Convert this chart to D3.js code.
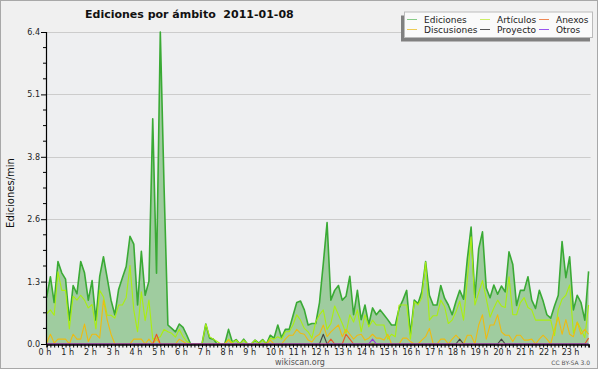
<!DOCTYPE html>
<html><head><meta charset="utf-8">
<script src="https://cdn.jsdelivr.net/npm/d3@7/dist/d3.min.js"></script>
<style>body{margin:0;background:#fff}svg{display:block;font-family:"DejaVu Sans",sans-serif}</style>
</head><body><svg id="c" width="600" height="370"></svg>
<script>
const title = "Ediciones por ámbito  2011-01-08";
const yLabel = "Ediciones/min";
const hourLabels = d3.range(24).map(h => h + " h");
const yTickValues = [0, 1.28, 2.56, 3.84, 5.12, 6.4];
const yTickLabels = ["0.0", "1.3", "2.6", "3.8", "5.1", "6.4"];
const seriesNames = ["Ediciones", "Artículos", "Anexos", "Discusiones", "Proyecto", "Otros"];

const ediciones = [0.95,1.38,0.85,1.69,1.46,1.33,0.49,1.2,1.03,1.69,1.46,0.9,1.3,0.49,1.38,1.79,1.35,0.9,0.6,1.12,1.36,1.59,2.21,2.05,
0.8,1.9,1.0,1.29,4.62,1.45,6.4,3.2,0.39,0.32,0.25,0.41,0.34,0.18,0,0,0,0,0.41,0.12,0.1,0,0,0,
0.3,0.04,0.09,0,0.1,0,0,0.08,0.02,0.09,0,0.18,0.12,0.39,0.13,0.3,0.3,0.58,0.85,0.88,0.7,0.39,0.42,0.42,
0.85,1.65,2.49,0.9,1.1,1.2,0.9,0.98,1.39,0.6,1.1,0.5,0.8,0.4,0.74,0.6,0.7,0.6,0.5,0.39,0.39,0.73,0.9,1.1,
0.2,0.9,0.83,1.07,1.69,1.0,0.8,0.8,1.2,0.94,0.8,0.6,0.87,1.1,0.92,1.74,2.4,0.95,1.95,2.3,1.15,0.95,1.21,1.02,
1.19,1.07,1.89,1.63,0.79,1.1,1.1,1.38,0.9,0.73,1.1,0.88,0.6,0.53,0.78,1.0,2.1,1.36,1.79,0.7,1.0,0.85,0.49,1.49];

const articulos = [0.62,0.7,0.59,1.48,1.1,1.1,0.31,0.98,0.9,1.0,0.9,0.74,0.81,0.31,1.1,0.97,0.59,0.59,0.53,0.8,0.8,0.95,1.61,0.7,
0.25,1.07,0.48,0.9,0.1,0.12,0.15,0.3,0.25,0.22,0.14,0.3,0.15,0.05,0,0,0,0,0.41,0.15,0.1,0.05,0,0,
0.1,0.03,0.08,0,0.08,0,0,0.08,0,0.08,0,0.12,0.1,0.15,0.1,0.25,0.25,0.39,0.6,0.49,0.32,0.25,0.12,0.45,
0.6,0.7,0.3,0.42,0.78,0.6,0.42,0.22,0.6,0.45,0.7,0.25,0.6,0.35,0.49,0.39,0.39,0.39,0.1,0.2,0.15,0.8,0.8,0.8,
0.1,0.87,0.8,0.95,1.68,0.49,0.58,0.58,0.9,0.77,0.42,0.49,0.66,0.88,0.49,1.33,2.2,0.8,1.05,1.3,0.93,0.55,0.74,0.9,
0.78,0.75,1.38,0.6,0.6,0.85,0.95,0.75,0.7,0.49,0.49,0.49,0.49,0.49,0.17,0.7,0.92,1.0,1.21,0.22,0.45,0.3,0.13,0.8];

const discusiones = [0.02,0.2,0.02,0.1,0.1,0.1,0,0.2,0.1,0.1,0.41,0.05,0.2,0.2,0.12,0.9,0.49,0.2,0,0,0,0,0,0.1,
0.1,0.1,0,0.1,0,0.1,0,0,0,0,0,0.1,0.05,0,0,0,0,0,0,0,0,0,0,0,
0.08,0,0,0,0,0,0,0,0,0,0,0.08,0,0,0,0.1,0.18,0.18,0.3,0.22,0.2,0.08,0.04,0.15,
0.2,0.39,0.15,0.25,0.32,0.39,0.15,0.3,0.2,0.1,0.18,0.2,0.08,0.12,0.2,0.12,0.12,0.08,0.2,0,0,0,0.12,0.12,
0.05,0,0,0.08,0.15,0.32,0,0,0.1,0.1,0,0.1,0.18,0.1,0,0.18,0.18,0,0.39,0.6,0.1,0.39,0.39,0.6,
0.25,0.18,0.18,0.05,0.18,0.18,0.08,0.08,0.1,0,0.1,0.18,0.1,0,0.3,0.55,0.2,0.5,0.2,0.15,0.45,0.2,0.3,0.2];

const anexos = [0,0,0,0,0,0,0,0,0,0,0,0,0,0,0,0,0,0,0,0,0,0,0,0,
0,0,0,0,0,0.2,0,0,0,0,0,0,0,0,0,0,0,0,0,0,0,0,0,0,
0,0,0,0,0,0,0,0,0,0,0,0,0,0,0,0,0,0,0,0,0,0,0,0,
0,0,0,0.1,0,0,0,0.2,0.1,0,0,0,0,0,0,0,0,0,0,0,0,0,0,0,
0,0,0,0,0,0,0,0,0,0,0,0,0,0,0,0,0,0,0,0,0,0,0,0,
0,0,0,0,0,0,0,0,0,0,0,0,0,0,0,0,0,0,0,0,0,0,0,0.12];

const proyecto = [0,0,0,0,0,0,0,0,0,0,0,0,0,0,0,0,0,0,0,0,0,0,0,0,
0,0,0,0,0,0,0,0,0,0,0,0,0,0,0,0,0,0,0,0,0,0,0,0,
0,0,0,0,0,0,0,0,0,0,0,0,0,0,0,0,0,0,0,0,0,0,0,0,
0,0.2,0,0,0,0,0,0,0,0,0,0,0,0,0,0,0,0,0,0,0,0,0,0,
0,0,0,0,0,0,0,0,0,0,0,0,0,0.1,0,0,0,0,0,0,0,0,0,0,
0.1,0,0,0,0,0,0,0,0,0,0,0,0,0,0,0,0,0,0,0,0,0,0,0];

const otros = [0,0,0,0,0,0,0,0,0,0,0,0,0,0,0,0,0,0,0,0,0,0,0,0,
0,0,0,0,0,0,0,0,0,0,0,0,0,0,0,0,0,0,0,0,0,0,0,0,
0,0,0,0,0,0,0,0,0,0,0,0,0,0,0,0,0,0,0,0,0,0,0,0,
0,0,0,0,0,0,0,0,0,0,0,0,0,0,0.1,0,0,0,0,0,0,0,0,0,
0,0,0,0,0,0,0,0,0,0,0,0,0,0,0,0,0,0,0,0,0,0,0,0,
0,0,0,0,0,0,0,0,0,0,0,0,0,0,0,0,0,0,0,0,0,0,0,0];

const svg = d3.select("#c");
svg.append("rect").attr("x",0.5).attr("y",0.5).attr("width",597).attr("height",368)
  .attr("fill","#f0f0f0").attr("stroke","#a8a8a8");

const x = d3.scaleLinear().domain([0, 143]).range([46.6, 588.6]);
const y = d3.scaleLinear().domain([0, 6.4]).range([344, 32]);

svg.append("rect").attr("x",x(0)).attr("y",y(6.4)).attr("width",x(143)-x(0)+2).attr("height",y(0)-y(6.4))
  .attr("fill","#eeeff1");

// grid
svg.append("g").selectAll("line").data(yTickValues.slice(1)).join("line")
  .attr("x1",x(0)).attr("x2",x(143)+2).attr("y1",d=>Math.round(y(d))+0.5).attr("y2",d=>Math.round(y(d))+0.5)
  .attr("stroke","#cccccc").attr("stroke-width",1);

const idx = d3.range(144);
const area = d3.area().x(i=>x(i)).y0(y(0)).y1(i=>y(ediciones[i]));
svg.append("path").datum(idx).attr("d",area).attr("fill","#9fcc9f");

function line(arr){ return d3.line().x(i=>x(i)).y(i=>y(arr[i]))(idx); }
const series = [
  [ediciones,"#3aaa35",1.6],
  [articulos,"#aaee11",1.1],
  [discusiones,"#eebb11",1.1],
  [anexos,"#ee5522",1.1],
  [proyecto,"#444444",1.1],
  [otros,"#9933dd",1.1]
];
series.forEach(([arr,col,w])=>{
  svg.append("path").attr("d",line(arr)).attr("fill","none").attr("stroke",col).attr("stroke-width",w)
    .attr("stroke-linejoin","round");
});

// axes
const xAxis = d3.axisBottom(x).tickValues(idx).tickSize(3).tickFormat("");
const gx = svg.append("g").attr("transform","translate(0,344.5)").call(xAxis);
gx.select(".domain").attr("stroke","#000").attr("stroke-width",1.5);
gx.selectAll(".tick line").attr("stroke","#000");
svg.append("g").selectAll("text").data(hourLabels).join("text")
  .attr("x",(d,i)=>x(i*6)-8).attr("y",354.5).attr("font-size",8).attr("fill","#222").text(d=>d);

const yAxis = d3.axisLeft(y).tickValues(yTickValues).tickSize(5).tickFormat((d,i)=>yTickLabels[i]).tickPadding(1);
const gy = svg.append("g").attr("transform","translate(46,0)").call(yAxis);
gy.select(".domain").attr("stroke","#000").attr("stroke-width",1.2);
gy.selectAll(".tick line").attr("stroke","#000");
gy.selectAll(".tick text").attr("font-size",8).attr("fill","#222").attr("font-family","DejaVu Sans");
svg.append("g").selectAll("line").data(d3.range(0.32,6.4,0.32).filter((d,i)=>(i+1)%4!==0)).join("line")
  .attr("x1",43).attr("x2",46).attr("y1",d=>y(d)).attr("y2",d=>y(d)).attr("stroke","#000");

// texts
svg.append("text").attr("x",85).attr("y",18).attr("font-size",11).attr("font-weight","bold")
  .attr("fill","#111").style("white-space","pre").text(title);
svg.append("text").attr("transform","translate(14,193) rotate(-90)").attr("text-anchor","middle")
  .attr("font-size",10).attr("fill","#111").text(yLabel);
svg.append("text").attr("x",300).attr("y",365).attr("text-anchor","middle").attr("font-size",8)
  .attr("fill","#555").text("wikiscan.org");
svg.append("text").attr("x",590).attr("y",365).attr("text-anchor","end").attr("font-size",6)
  .attr("fill","#555").text("CC BY-SA 3.0");

// legend
const lg = svg.append("g");
lg.append("rect").attr("x",401).attr("y",15.5).attr("width",189).attr("height",26).attr("fill","#808080");
lg.append("rect").attr("x",404.5).attr("y",12).attr("width",188).attr("height",25.5).attr("fill","#fafafa").attr("stroke","#bbb");
const legendColors = ["#88cc88","#ccee66","#ee8855","#eecc55","#555555","#9955ee"];
const legendX = [407, 480, 539];
seriesNames.forEach((n,i)=>{
  const col = i%3, row = Math.floor(i/3);
  const ly = row===0 ? 19.5 : 29.5;
  lg.append("line").attr("x1",legendX[col]).attr("x2",legendX[col]+10).attr("y1",ly).attr("y2",ly)
    .attr("stroke",legendColors[i]).attr("stroke-width",1);
  lg.append("text").attr("x",legendX[col]+17).attr("y",ly+3).attr("font-size",9).attr("fill","#222").text(n);
});
</script></body></html>
